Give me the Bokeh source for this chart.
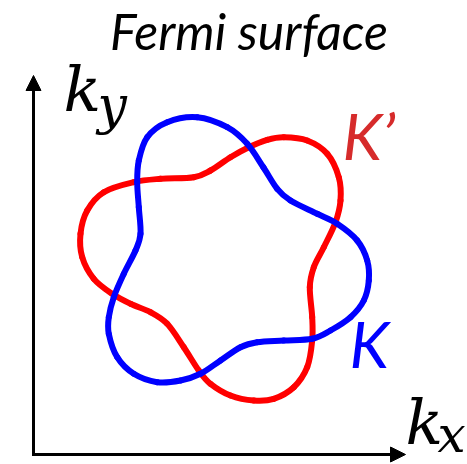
import numpy as np
from bokeh.plotting import figure
from bokeh.models import Range1d, Arrow, NormalHead, Label
from bokeh.embed import file_html
from bokeh.resources import INLINE

# ---- data (arbitrary k units, centre of the Fermi surface at 0,0) ----
title_text = "Fermi surface"
valley_labels = ["K", "K\u2019"]

# K valley (blue) contour, traced clockwise from the top
blue_kx = [-0.298, 0.002, 0.202, 0.365, 0.502, 0.635, 0.902, 1.102, 1.302, 1.402,
           1.418, 1.368, 1.235, 1.035, 0.852, 0.568, 0.302, 0.135, -0.065, -0.265,
           -0.465, -0.698, -0.932, -1.098, -1.182, -1.182, -1.132, -1.032, -0.915, -0.865,
           -0.882, -0.898, -0.882, -0.798, -0.598]
blue_ky = [1.428, 1.328, 1.162, 0.925, 0.712, 0.595, 0.462, 0.362, 0.195, -0.005,
           -0.205, -0.405, -0.572, -0.705, -0.788, -0.805, -0.822, -0.872, -1.005, -1.138,
           -1.205, -1.222, -1.138, -0.972, -0.738, -0.572, -0.372, -0.138, 0.095, 0.262,
           0.528, 0.778, 0.995, 1.228, 1.378]

# K' valley (red) contour, traced clockwise from the upper right lobe
red_kx = [0.568, 0.802, 1.002, 1.118, 1.135, 1.085, 0.968, 0.868, 0.828, 0.852,
          0.852, 0.802, 0.668, 0.468, 0.268, 0.035, -0.165, -0.282, -0.432, -0.598,
          -0.765, -0.965, -1.148, -1.332, -1.448, -1.465, -1.398, -1.232, -0.932, -0.665,
          -0.332, -0.165, 0.035, 0.218, 0.402]
red_ky = [1.228, 1.195, 1.062, 0.828, 0.595, 0.378, 0.128, -0.072, -0.272, -0.572,
          -0.805, -1.072, -1.272, -1.388, -1.405, -1.355, -1.238, -1.105, -0.872, -0.638,
          -0.522, -0.438, -0.338, -0.188, 0.028, 0.262, 0.495, 0.678, 0.778, 0.812,
          0.828, 0.895, 1.028, 1.128, 1.202]

# axis extents (k units)
axis_origin = (-1.935, -1.945)
kx_axis_end = 1.785
ky_axis_end = 1.845


def closed_bezier(xs, ys):
    """Smooth closed curve through the traced points (Catmull-Rom -> cubic Bezier)."""
    x = np.asarray(xs, float)
    y = np.asarray(ys, float)
    xp, yp = np.roll(x, 1), np.roll(y, 1)      # P[i-1]
    xn, yn = np.roll(x, -1), np.roll(y, -1)    # P[i+1]
    xnn, ynn = np.roll(x, -2), np.roll(y, -2)  # P[i+2]
    return dict(x0=x, y0=y, x1=xn, y1=yn,
                cx0=x + (xn - xp) / 6.0, cy0=y + (yn - yp) / 6.0,
                cx1=xn - (xnn - x) / 6.0, cy1=yn - (ynn - y) / 6.0)


p = figure(width=467, height=464,
           x_range=Range1d(-2.265, 2.405), y_range=Range1d(-2.045, 2.595),
           output_backend="svg", toolbar_location=None, min_border=0)
p.axis.visible = False
p.grid.visible = False
p.outline_line_color = None
p.background_fill_color = "white"
p.border_fill_color = "white"

red = closed_bezier(red_kx, red_ky)
p.bezier(line_color="#FF0000", line_width=6, line_cap="round", **red)
blue = closed_bezier(blue_kx, blue_ky)
p.bezier(line_color="#0000FF", line_width=6, line_cap="round", **blue)

# axes arrows
ox, oy = axis_origin
p.add_layout(Arrow(end=NormalHead(size=15, fill_color="black", line_color="black", line_width=1),
                   x_start=ox, y_start=oy - 0.015, x_end=ox, y_end=ky_axis_end,
                   line_color="black", line_width=3))
p.add_layout(Arrow(end=NormalHead(size=15, fill_color="black", line_color="black", line_width=1),
                   x_start=ox - 0.015, y_start=oy, x_end=kx_axis_end, y_end=oy,
                   line_color="black", line_width=3))

# texts
p.add_layout(Label(x=0.22, y=2.288, text=title_text, text_align="center",
                   text_baseline="alphabetic", text_font="Lato", text_font_style="italic",
                   text_font_size="50px", text_color="black"))

serif = "DejaVu Serif"
p.add_layout(Label(x=-1.635, y=1.71, text="k", text_font=serif, text_font_style="italic",
                   text_font_size="62px", text_baseline="alphabetic", text_color="black"))
p.add_layout(Label(x=-1.295, y=1.555, text="y", text_font=serif, text_font_style="italic",
                   text_font_size="52px", text_baseline="alphabetic", text_color="black"))
p.add_layout(Label(x=1.785, y=-1.625, text="k", text_font=serif, text_font_style="italic",
                   text_font_size="62px", text_baseline="alphabetic", text_color="black"))
p.add_layout(Label(x=2.105, y=-1.752, text="x", text_font=serif, text_font_style="italic",
                   text_font_size="50px", text_baseline="alphabetic", text_color="black"))

p.add_layout(Label(x=1.155, y=1.243, text=valley_labels[1], text_font="Lato",
                   text_font_style="italic", text_font_size="64px",
                   text_baseline="alphabetic", text_color="#D62B2B"))
p.add_layout(Label(x=1.225, y=-0.837, text=valley_labels[0], text_font="Lato",
                   text_font_style="italic", text_font_size="64px",
                   text_baseline="alphabetic", text_color="#0000FF"))

open("out.html", "w").write(file_html(p, INLINE))
